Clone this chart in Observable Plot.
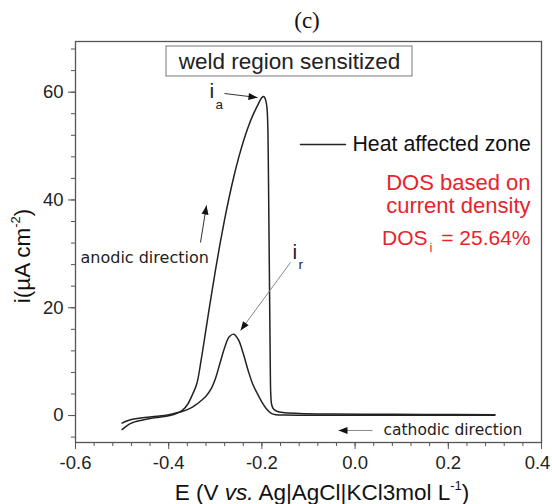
<!DOCTYPE html>
<html><head><meta charset="utf-8">
<script src="https://cdn.jsdelivr.net/npm/d3@7"></script>
<script src="https://cdn.jsdelivr.net/npm/@observablehq/plot@0.6"></script>
<style>body{margin:0;background:#fff} svg{display:block}</style>
</head><body><div id="chart"></div>
<script>
// Anodic (forward) scan, E in V, i in µA cm^-2
const anodicE = [-0.5, -0.49, -0.48, -0.46, -0.44, -0.42, -0.40, -0.38, -0.37, -0.36, -0.35, -0.34, -0.33, -0.32, -0.31, -0.30, -0.29, -0.28, -0.27, -0.26, -0.25, -0.24, -0.23, -0.22, -0.21, -0.205, -0.20, -0.197, -0.194, -0.191, -0.189, -0.188, -0.187, -0.186, -0.185, -0.184, -0.183, -0.182, -0.181, -0.179, -0.175, -0.168, -0.155, -0.12, -0.05, 0.05, 0.15, 0.3];
const anodicI = [-2.6, -1.9, -1.4, -0.9, -0.55, -0.3, -0.05, 0.5, 1.0, 2.0, 3.7, 5.8, 10.5, 16.0, 21.5, 26.8, 31.8, 36.4, 40.6, 44.4, 47.8, 50.8, 53.4, 55.6, 57.4, 58.3, 59.0, 59.2, 59.0, 58.2, 57.0, 55.5, 52.5, 45.0, 36.0, 27.0, 18.0, 9.0, 4.0, 2.0, 1.2, 0.8, 0.55, 0.4, 0.3, 0.25, 0.2, 0.15];
// Reactivation (reverse) scan
const reverseE = [0.3, 0.2, 0.1, 0.0, -0.1, -0.15, -0.17, -0.18, -0.19, -0.20, -0.21, -0.22, -0.23, -0.24, -0.25, -0.26, -0.27, -0.28, -0.29, -0.30, -0.31, -0.32, -0.33, -0.34, -0.35, -0.36, -0.37, -0.38, -0.39, -0.40, -0.42, -0.44, -0.46, -0.48, -0.49, -0.5];
const reverseI = [0.05, 0.05, 0.05, 0.05, 0.05, 0.08, 0.15, 0.4, 1.2, 2.5, 4.1, 5.9, 8.5, 11.5, 14.0, 15.1, 14.6, 12.6, 9.7, 6.8, 4.8, 3.6, 2.8, 2.1, 1.5, 1.1, 0.8, 0.55, 0.35, 0.15, -0.1, -0.25, -0.45, -0.75, -1.0, -1.4];

const xTicks = [-0.6, -0.4, -0.2, 0.0, 0.2, 0.4];
const xMinorTicks = d3.range(0, 26).map(k => +(-0.6 + k * 0.04).toFixed(2));
const yTicks = [0, 20, 40, 60];
const yMinorTicks = d3.range(-4, 69, 4);

const fwd = anodicE.map((e, k) => ({E: e, i: anodicI[k]}));
const rev = reverseE.map((e, k) => ({E: e, i: reverseI[k]}));

const sans = "'Liberation Sans', Arial, sans-serif";
const dejavu = "'DejaVu Sans', Verdana, sans-serif";
const red = "#e8232b";
const ink = "#222";

const arrows = [
  {x1: -0.2803, y1: 59.75, x2: -0.2094, y2: 59.0, angle: 96.9, c: "#333"},
  {x1: -0.3318, y1: 32.1, x2: -0.3189, y2: 38.97, angle: 9.2, c: "#333"},
  {x1: -0.1386, y1: 28.4, x2: -0.2459, y2: 15.78, angle: 216.3, c: "#888"},
  {x1: 0.0373, y1: -2.77, x2: -0.0356, y2: -2.77, angle: 270, c: "#888"}
];

const plot = Plot.plot({
  width: 552, height: 504,
  marginLeft: 75, marginRight: 11, marginTop: 41, marginBottom: 62,
  style: {fontFamily: sans, fontSize: "18.5px", color: ink, background: "#fff"},
  x: {domain: [-0.6, 0.4]},
  y: {domain: [-5, 69.4]},
  marks: [
    Plot.axisX(xMinorTicks, {tickSize: 4, text: null, label: null, stroke: "#555"}),
    Plot.axisX(xTicks, {tickSize: 7, tickPadding: 6, label: null, stroke: "#555", tickFormat: d => d.toFixed(1), fontSize: 18.5}),
    Plot.axisY(yMinorTicks, {tickSize: 4, text: null, label: null, stroke: "#555"}),
    Plot.axisY(yTicks, {tickSize: 7, tickPadding: 5, label: null, stroke: "#555", tickFormat: d => String(d), fontSize: 18.5}),
    Plot.frame({stroke: "#555", strokeWidth: 1.3}),
    Plot.line(fwd, {x: "E", y: "i", stroke: ink, strokeWidth: 1.5, curve: "catmull-rom"}),
    Plot.line(rev, {x: "E", y: "i", stroke: ink, strokeWidth: 1.5, curve: "catmull-rom"}),
    // title box
    Plot.rect([{x1: -0.4047, x2: 0.1232, y1: 62.91, y2: 68.47}], {x1: "x1", x2: "x2", y1: "y1", y2: "y2", fill: "none", stroke: "#777", strokeWidth: 1}),
    Plot.text(["weld region sensitized"], {x: -0.1408, y: 65.69, fontSize: 22.5, fontFamily: sans, fill: ink}),
    // legend
    Plot.line([{E: -0.1172, i: 50.29}, {E: -0.0206, i: 50.29}], {x: "E", y: "i", stroke: ink, strokeWidth: 1.5}),
    Plot.text(["Heat affected zone"], {x: -0.0056, y: 50.29, textAnchor: "start", fontSize: 21.3, fontFamily: sans, fill: "#111"}),
    // DOS text
    Plot.text(["DOS based on"], {x: 0.3764, y: 43.24, textAnchor: "end", fontSize: 22, fontFamily: sans, fill: red}),
    Plot.text(["current density"], {x: 0.3764, y: 38.97, textAnchor: "end", fontSize: 22, fontFamily: sans, fill: red}),
    Plot.text(["= 25.64%"], {x: 0.3764, y: 32.85, textAnchor: "end", fontSize: 21, fontFamily: sans, fill: red}),
    Plot.text(["DOS"], {x: 0.1554, y: 32.85, textAnchor: "end", fontSize: 21, fontFamily: sans, fill: red}),
    Plot.text(["i"], {x: 0.1597, y: 31.18, textAnchor: "start", fontSize: 13, fontFamily: sans, fill: red}),
    // peak labels
    Plot.text(["i"], {x: -0.3124, y: 60.2, textAnchor: "start", fontSize: 21, fontFamily: sans, fill: ink}),
    Plot.text(["a"], {x: -0.2996, y: 57.75, textAnchor: "start", fontSize: 13.5, fontFamily: sans, fill: ink}),
    Plot.text(["i"], {x: -0.1343, y: 30.33, textAnchor: "start", fontSize: 21, fontFamily: sans, fill: ink}),
    Plot.text(["r"], {x: -0.1215, y: 28.06, textAnchor: "start", fontSize: 13.5, fontFamily: sans, fill: ink}),
    // direction labels
    Plot.text(["anodic direction"], {x: -0.5893, y: 29.32, textAnchor: "start", fontSize: 16, fontFamily: dejavu, fill: ink}),
    Plot.text(["cathodic direction"], {x: 0.0609, y: -2.77, textAnchor: "start", fontSize: 15.5, fontFamily: dejavu, fill: ink}),
    // arrows
    Plot.link(arrows, {x1: "x1", y1: "y1", x2: "x2", y2: "y2", stroke: "c", strokeWidth: 1}),
    Plot.vector(arrows, {x: "x2", y: "y2", rotate: "angle", length: 9, r: 3.5, shape: "spike", anchor: "end", fill: "#111", stroke: "none"})
  ]
});

const svg = d3.select(plot);
// keep the last x tick label inside the page
svg.selectAll("text").filter(function() { return this.textContent === "0.4"; }).attr("dx", -4);
// Title
svg.append("text").attr("x", 307).attr("y", 28).attr("text-anchor", "middle")
  .attr("font-family", "'Liberation Serif', 'Times New Roman', serif").attr("font-size", 23).attr("fill", "#111").text("(c)");
// X axis label
const xl = svg.append("text").attr("x", 322).attr("y", 500).attr("text-anchor", "middle")
  .attr("font-family", sans).attr("font-size", 22.5).attr("fill", "#111");
xl.append("tspan").text("E (V ");
xl.append("tspan").attr("font-style", "italic").text("vs.");
xl.append("tspan").text(" Ag|AgCl|KCl3mol L");
xl.append("tspan").attr("font-size", 13).attr("dy", -10).text("-1");
xl.append("tspan").attr("dy", 10).text(")");
// Y axis label
const yl = svg.append("text").attr("transform", "translate(30,256) rotate(-90)").attr("text-anchor", "middle")
  .attr("font-family", sans).attr("font-size", 22.5).attr("fill", "#111");
yl.append("tspan").text("i(\u00b5A cm");
yl.append("tspan").attr("font-size", 13).attr("dy", -10).text("-2");
yl.append("tspan").attr("dy", 10).text(")");

document.getElementById("chart").appendChild(plot);
</script>
</body></html>
